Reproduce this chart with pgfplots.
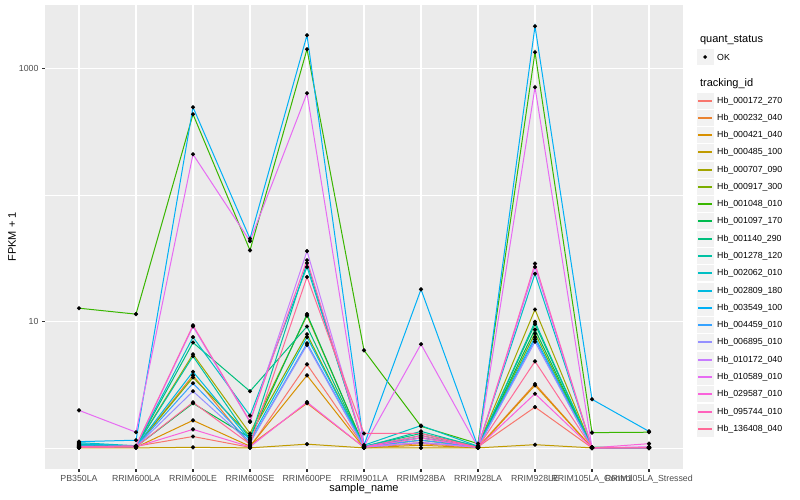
\documentclass[border=0pt]{standalone}
\usepackage{pgfplots}
\pgfplotsset{compat=1.18}
\usepackage{pgfplotstable}
\usepackage{fontspec}
\setmainfont{Liberation Sans}

\definecolor{grey92}{HTML}{EBEBEB}
\definecolor{grey95}{HTML}{F2F2F2}
\definecolor{grey30}{HTML}{4D4D4D}
\definecolor{grey20}{HTML}{333333}
% ggplot hue palette, 20 levels
\definecolor{c1}{HTML}{F8766D}
\definecolor{c2}{HTML}{EA8331}
\definecolor{c3}{HTML}{D89000}
\definecolor{c4}{HTML}{C09B00}
\definecolor{c5}{HTML}{A3A500}
\definecolor{c6}{HTML}{7CAE00}
\definecolor{c7}{HTML}{39B600}
\definecolor{c8}{HTML}{00BB4E}
\definecolor{c9}{HTML}{00BF7D}
\definecolor{c10}{HTML}{00C1A3}
\definecolor{c11}{HTML}{00BFC4}
\definecolor{c12}{HTML}{00BAE0}
\definecolor{c13}{HTML}{00B0F6}
\definecolor{c14}{HTML}{35A2FF}
\definecolor{c15}{HTML}{9590FF}
\definecolor{c16}{HTML}{C77CFF}
\definecolor{c17}{HTML}{E76BF3}
\definecolor{c18}{HTML}{FA62DB}
\definecolor{c19}{HTML}{FF62BC}
\definecolor{c20}{HTML}{FF6A98}

% FPKM + 1, one row per sample, one column per tracking_id
\pgfplotstableread{
x  s1   s2   s3   s4   s5   s6   s7   s8   s9   s10  s11  s12  s13  s14  s15  s16  s17  s18  s19  s20
0  1.02 1.03 1.01 1.00 1.05 1.04 12.7 1.05 1.06 1.07 1.10 1.08 1.12 1.04 1.03 1.02 1.98 1.01 1.02 1.01
1  1.03 1.02 1.01 1.00 1.03 1.02 11.4 1.02 1.03 1.03 1.04 1.03 1.15 1.02 1.02 1.03 1.33 1.02 1.04 1.02
2  1.23 3.74 1.65 1.01 5.5  3.6  433  2.25 6.8  5.3  7.5  4.0  492  3.24 2.8  9.1  209  1.40 9.3  2.29
3  1.01 1.05 1.03 1.00 1.30 1.25 36.4 1.20 2.8  1.17 1.8  1.15 45   1.11 1.10 1.60 43   1.02 1.62 1.07
4  4.57 2.25 3.74 1.07 11.1 7.9  1413 11.4 9.1  28.9 26.9 7.5  1824 6.7  6.5  35.9 634  2.30 30.4 22.4
5  1.02 1.01 1.00 1.00 1.03 1.02 5.9  1.02 1.03 1.02 1.05 1.03 1.05 1.02 1.01 1.02 1.03 1.01 1.02 1.30
6  1.10 1.08 1.05 1.00 1.20 1.15 1.48 1.25 1.30 1.35 1.50 1.20 17.9 1.15 1.10 1.10 6.6  1.20 1.25 1.30
7  1.02 1.01 1.00 1.00 1.03 1.02 1.08 1.02 1.03 1.02 1.03 1.02 1.02 1.01 1.01 1.01 1.01 1.01 1.01 1.01
8  2.10 3.20 3.12 1.06 12.4 8.0  1338 8.6  9.5  9.9  23.8 7.5  2148 7.2  6.9  26.9 708  2.68 28.6 4.83
9  1.00 1.00 1.00 1.00 1.01 1.00 1.32 1.00 1.01 1.00 1.01 1.00 2.42 1.00 1.00 1.00 1.00 1.00 1.00 1.00
10 1.00 1.00 1.00 1.00 1.00 1.00 1.33 1.00 1.00 1.00 1.00 1.00 1.35 1.00 1.00 1.01 1.02 1.08 1.00 1.00
}\fpkm

\newcommand\key[3]{% y, colour, label
  \fill[grey95] (696.5,#1-8.4) rectangle (713.8,#1+8.4);
  \draw[#2, line width=1.3pt] (698.2,#1) -- (712.1,#1);
  \node[anchor=west, inner sep=0pt, font=\fontsize{8.8}{10}\selectfont] at (717,#1) {#3};
}

\begin{document}
\begin{tikzpicture}[x=1pt,y=1pt]
\useasboundingbox (0,0) rectangle (800,500);
\begin{axis}[
    at={(44.8pt,31pt)}, anchor=south west,
    scale only axis, width=638.4pt, height=464pt,
    ymode=log, ymin=0.681, ymax=3162,
    xmin=-0.6, xmax=10.6,
    xtick={0,...,10},
    xticklabels={PB350LA,RRIM600LA,RRIM600LE,RRIM600SE,RRIM600PE,RRIM901LA,
      RRIM928BA,RRIM928LA,RRIM928LE,RRIM105LA\_Control,RRIM105LA\_Stressed},
    ytick={10,1000}, yticklabels={10,1000},
    minor ytick={1,100},
    axis background/.style={fill=grey92},
    axis line style={draw=none},
    xmajorgrids, ymajorgrids, yminorgrids,
    major grid style={white, line width=1.07pt},
    minor grid style={white, line width=0.53pt},
    tick pos=left, tick align=outside,
    major tick length=2.75pt, minor tick length=0pt,
    tick style={grey20, line width=1.07pt},
    ticklabel style={font=\fontsize{8.8}{10}\selectfont, text=grey30},
    xlabel={sample\_name}, ylabel={FPKM + 1},
    label style={font=\fontsize{11}{13}\selectfont},
    xlabel style={at={(axis description cs:0.5,0)}, anchor=center, yshift=-20pt},
    ylabel style={at={(axis description cs:-0.0514,0.5)}, anchor=center},
  ]
  \pgfplotsinvokeforeach{1,...,20}{
    \addplot[c#1, line width=1pt, no marks] table[x=x, y=s#1] {\fpkm};
  }
  \pgfplotsinvokeforeach{1,...,20}{
    \addplot[only marks, mark=*, mark size=1.9pt, black] table[x=x, y=s#1] {\fpkm};
  }
\end{axis}

% legend
\node[anchor=west, font=\fontsize{11}{13}\selectfont] at (696.5,460) {quant\_status};
\fill[grey95] (696.5,434.6) rectangle (713.8,451.4);
\fill[black] (705.1,443) circle (1.9);
\node[anchor=west, inner sep=0pt, font=\fontsize{8.8}{10}\selectfont] at (717,443) {OK};
\node[anchor=west, font=\fontsize{11}{13}\selectfont] at (696.5,416) {tracking\_id};
\key{399}{c1}{Hb\_000172\_270}
\key{382}{c2}{Hb\_000232\_040}
\key{365}{c3}{Hb\_000421\_040}
\key{348}{c4}{Hb\_000485\_100}
\key{330}{c5}{Hb\_000707\_090}
\key{313}{c6}{Hb\_000917\_300}
\key{296}{c7}{Hb\_001048\_010}
\key{279}{c8}{Hb\_001097\_170}
\key{261}{c9}{Hb\_001140\_290}
\key{244}{c10}{Hb\_001278\_120}
\key{227}{c11}{Hb\_002062\_010}
\key{209}{c12}{Hb\_002809\_180}
\key{192}{c13}{Hb\_003549\_100}
\key{175}{c14}{Hb\_004459\_010}
\key{158}{c15}{Hb\_006895\_010}
\key{140}{c16}{Hb\_010172\_040}
\key{123}{c17}{Hb\_010589\_010}
\key{106}{c18}{Hb\_029587\_010}
\key{88}{c19}{Hb\_095744\_010}
\key{71}{c20}{Hb\_136408\_040}
\end{tikzpicture}
\end{document}
